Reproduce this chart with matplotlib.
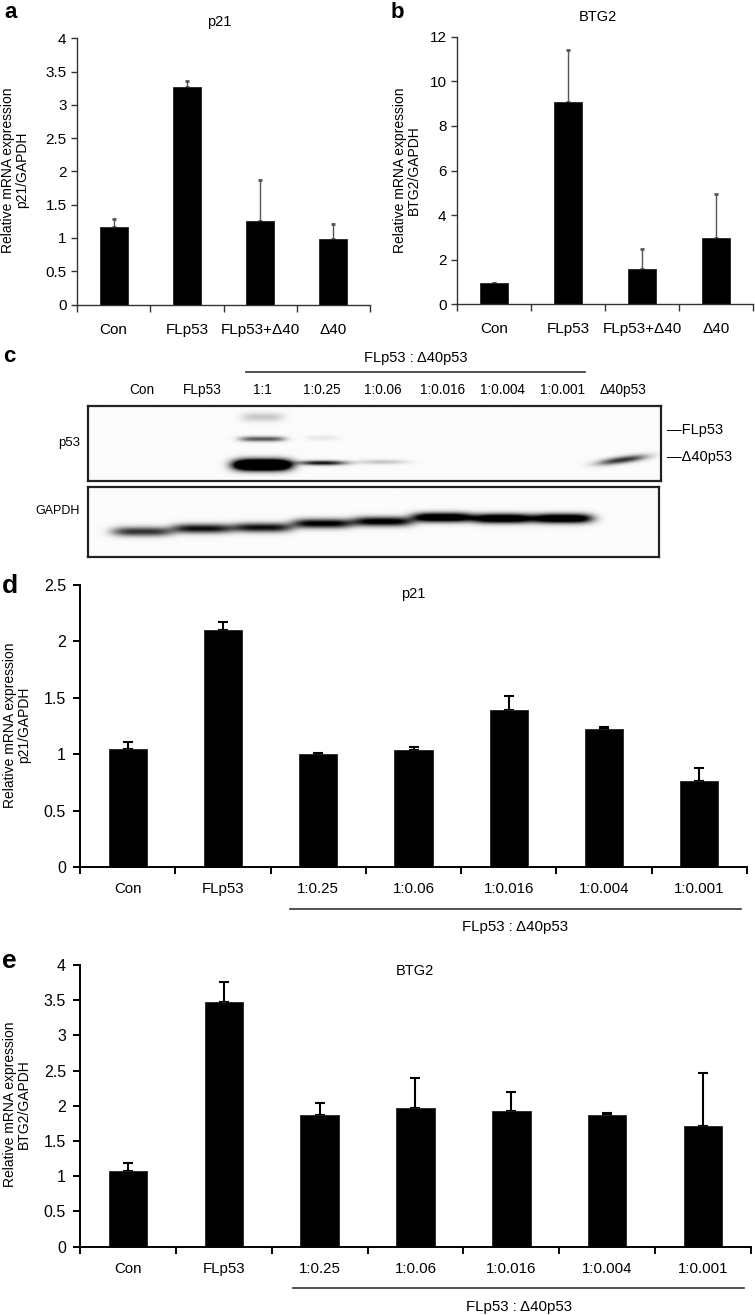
import numpy as np
import matplotlib
matplotlib.use("Agg")
import matplotlib.pyplot as plt
from matplotlib import transforms
from matplotlib.ticker import FuncFormatter

plt.rcParams['font.family'] = ['Liberation Sans', 'DejaVu Sans']

# ---- data ----
ab_cats = ['Con', 'FLp53', 'FLp53+Δ40', 'Δ40']
a_p21 = [1.17, 3.27, 1.26, 0.98]
a_p21_sd = [0.12, 0.09, 0.61, 0.23]
b_btg2 = [0.94, 9.07, 1.57, 2.98]
b_btg2_sd = [0.03, 2.35, 0.90, 1.97]

de_cats = ['Con', 'FLp53', '1:0.25', '1:0.06', '1:0.016', '1:0.004', '1:0.001']
d_p21 = [1.045, 2.10, 1.00, 1.035, 1.39, 1.225, 0.76]
d_p21_sd = [0.065, 0.07, 0.015, 0.025, 0.13, 0.015, 0.117]
e_btg2 = [1.08, 3.48, 1.87, 1.97, 1.93, 1.87, 1.72]
e_btg2_sd = [0.11, 0.28, 0.17, 0.42, 0.27, 0.03, 0.74]

# western blot (panel c): band strength per lane, and band row inside the box
lanes = ['Con', 'FLp53', '1:1', '1:0.25', '1:0.06', '1:0.016', '1:0.004', '1:0.001', 'Δ40p53']
p53_smear = [0, 0, 0.2, 0, 0, 0, 0, 0, 0]
p53_fl = [0, 0, 0.65, 0.08, 0, 0, 0, 0, 0]
p53_d40 = [0, 0, 2.2, 0.95, 0.22, 0, 0, 0, 0.8]
p53_d40_row = [59, 59, 59, 57, 56, 55, 55, 55, 54]
gapdh = [0.8, 0.95, 0.95, 1.05, 1.1, 1.4, 1.4, 1.4, 0]
gapdh_row = [45, 42, 41, 37, 35, 31, 32, 32, 32]

W, H = 755, 1315
fig = plt.figure(figsize=(W / 100, H / 100), dpi=100)


def add_ax(x0, y0, x1, y1):
    return fig.add_axes([x0 / W, 1 - y1 / H, (x1 - x0) / W, (y1 - y0) / H])


def ftext(x, y, s, **kw):
    fig.text(x / W, 1 - y / H, s, **kw)


def bar_panel(ax, cats, vals, sd, ymax, ystep, small, cat_size):
    n = len(cats)
    x = np.arange(n) + 0.5
    vals = np.array(vals)
    sd = np.array(sd)
    if small:
        ax.bar(x, vals, 0.38, color='black', edgecolor='#222222', linewidth=0.6, zorder=2)
        ax.errorbar(x, vals, yerr=[np.zeros(n), sd], fmt='none', ecolor='#555555',
                    elinewidth=1.0, capsize=1.3, capthick=2.0, zorder=1)
        spc, lw = '#333333', 1.0
    else:
        ax.bar(x, vals, 0.4, color='black', edgecolor='#222222', linewidth=0.6, zorder=2)
        ax.errorbar(x, vals, yerr=[np.zeros(n), sd], fmt='none', ecolor='black',
                    elinewidth=1.5, capsize=3.6, capthick=1.5, zorder=1)
        spc, lw = 'black', 1.4
    ax.set_xlim(0, n)
    ax.set_ylim(0, ymax)
    ax.set_yticks(np.arange(0, ymax + ystep / 2, ystep))
    ax.yaxis.set_major_formatter(FuncFormatter(lambda v, _: f'{v:g}'))
    ax.set_xticks(np.arange(n + 1))
    ax.set_xticklabels([])
    ax.set_xticks(x, minor=True)
    ax.set_xticklabels(cats, minor=True, fontsize=cat_size)
    for s in ['top', 'right']:
        ax.spines[s].set_visible(False)
    for s in ['left', 'bottom']:
        ax.spines[s].set_color(spc)
        ax.spines[s].set_linewidth(lw)
    ax.tick_params(axis='y', direction='out', length=4 if small else 5, width=lw,
                   color=spc, labelsize=11 if small else 11.5, pad=3.5 if small else 5)
    ax.tick_params(axis='x', which='major', direction='out', length=5, width=lw, color=spc)
    ax.tick_params(axis='x', which='minor', length=0, pad=13 if small else 11)


# ---- panel a ----
ax_a = add_ax(77, 38.3, 370, 304.5)
bar_panel(ax_a, ab_cats, a_p21, a_p21_sd, 4, 0.5, True, 11)
ftext(219, 22, 'p21', fontsize=10.5, ha='center', va='center')
ftext(15, 170, 'Relative mRNA expression\np21/GAPDH', fontsize=10, rotation=90,
      ha='center', va='center', multialignment='center', linespacing=1.0)
ftext(4, 18, 'a', fontsize=16, fontweight='bold')

# ---- panel b ----
ax_b = add_ax(457, 36.7, 753, 304.3)
bar_panel(ax_b, ab_cats, b_btg2, b_btg2_sd, 12, 2, True, 11)
ftext(598, 17, 'BTG2', fontsize=10.5, ha='center', va='center')
ftext(407, 170, 'Relative mRNA expression\nBTG2/GAPDH', fontsize=10, rotation=90,
      ha='center', va='center', multialignment='center', linespacing=1.0)
ftext(391, 18, 'b', fontsize=16, fontweight='bold')

# ---- panel c (blot) ----
lane_px0, lane_dx = 142, 60.1


def lane_of(px):
    return (px - lane_px0) / lane_dx


def blot_image(xl, xr, height, bands):
    xs = np.linspace(xl, xr, 700)
    ys = np.linspace(0, height, 300)
    X, Y = np.meshgrid(xs, ys)
    dark = np.zeros_like(X)
    for xc, yc, inten, hw, sy, tilt, pw in bands:
        if inten <= 0:
            continue
        yy = yc + tilt * (X - xc)
        dark += inten * np.exp(-np.abs((X - xc) / hw) ** pw) * np.exp(-((Y - yy) / sy) ** 2)
    return np.clip(0.985 - dark, 0, 1)


ax_p = add_ax(88, 406, 661, 481)
xl, xr = lane_of(88), lane_of(661)
bands = []
for i in range(len(lanes)):
    bands.append((i, 11, p53_smear[i], 0.35, 4.5, 0, 4))
    bands.append((i, 33 - (1 if i == 3 else 0), p53_fl[i], 0.38 if i == 2 else 0.28, 2.6, 0, 4))
    tilt = -8 if i == 8 else 0
    hw = 0.48 if i == 2 else 0.4
    sy = 5.5 if i == 2 else (3.4 if i == 8 else 2.3)
    bands.append((i, p53_d40_row[i], p53_d40[i], hw, sy, tilt, 4 if i == 2 else 2.5))
ax_p.imshow(blot_image(xl, xr, 75, bands), cmap='gray', vmin=0, vmax=1,
            extent=[xl, xr, 75, 0], aspect='auto', interpolation='bilinear')
ax_p.set_xlim(xl, xr)
ax_p.set_ylim(75, 0)

ax_g = add_ax(88, 487, 659, 557)
xr2 = lane_of(659)
gb = [(i, gapdh_row[i], gapdh[i], 0.5, 4.6, 0, 4) for i in range(len(lanes))]
ax_g.imshow(blot_image(xl, xr2, 70, gb), cmap='gray', vmin=0, vmax=1,
            extent=[xl, xr2, 70, 0], aspect='auto', interpolation='bilinear')
ax_g.set_xlim(xl, xr2)
ax_g.set_ylim(70, 0)

for ax in (ax_p, ax_g):
    ax.set_xticks([])
    ax.set_yticks([])
    for s in ax.spines.values():
        s.set_linewidth(1.6)
        s.set_color('#222222')

for i, name in enumerate(lanes):
    ax_p.text(i, -16, name, ha='center', va='center', fontsize=9.8)
ax_p.plot([lane_of(246), lane_of(585)], [-34, -34], color='#333333', lw=1.2, clip_on=False)
ax_p.text(lane_of(415.5), -48, 'FLp53 : Δ40p53', ha='center', va='center', fontsize=10.5)
ax_p.text(lane_of(80), 37, 'p53', ha='right', va='center', fontsize=9.5)
ax_g.text(lane_of(80), 24, 'GAPDH', ha='right', va='center', fontsize=9)
ax_p.text(lane_of(667), 24, '—FLp53', ha='left', va='center', fontsize=10.5)
ax_p.text(lane_of(667), 51, '—Δ40p53', ha='left', va='center', fontsize=10.5)
ftext(3, 362, 'c', fontsize=16, fontweight='bold')

# ---- panel d ----
ax_d = add_ax(80, 585, 747, 867)
bar_panel(ax_d, de_cats, d_p21, d_p21_sd, 2.5, 0.5, False, 10.8)
ftext(413, 594, 'p21', fontsize=10.5, ha='center', va='center')
ftext(17, 725, 'Relative mRNA expression\np21/GAPDH', fontsize=10, rotation=90,
      ha='center', va='center', multialignment='center', linespacing=1.0)
ftext(2, 593, 'd', fontsize=19, fontweight='bold')

# ---- panel e ----
ax_e = add_ax(80, 965, 751, 1246.7)
bar_panel(ax_e, de_cats, e_btg2, e_btg2_sd, 4, 0.5, False, 10.8)
ftext(415, 971, 'BTG2', fontsize=10.5, ha='center', va='center')
ftext(17, 1104, 'Relative mRNA expression\nBTG2/GAPDH', fontsize=10, rotation=90,
      ha='center', va='center', multialignment='center', linespacing=1.0)
ftext(2, 968, 'e', fontsize=19, fontweight='bold')

# brackets under the ratio groups in d and e
for ax, (x0, x1), yl, yt in [(ax_d, (2.2, 6.94), -0.149, -0.213),
                             (ax_e, (2.22, 6.93), -0.147, -0.214)]:
    tr = transforms.blended_transform_factory(ax.transData, ax.transAxes)
    ax.plot([x0, x1], [yl, yl], color='#333333', lw=1.2, transform=tr, clip_on=False)
    ax.text((x0 + x1) / 2, yt, 'FLp53 : Δ40p53', transform=tr, ha='center', va='center',
            fontsize=10.8)

fig.savefig('out.png', dpi=100, facecolor='white')
